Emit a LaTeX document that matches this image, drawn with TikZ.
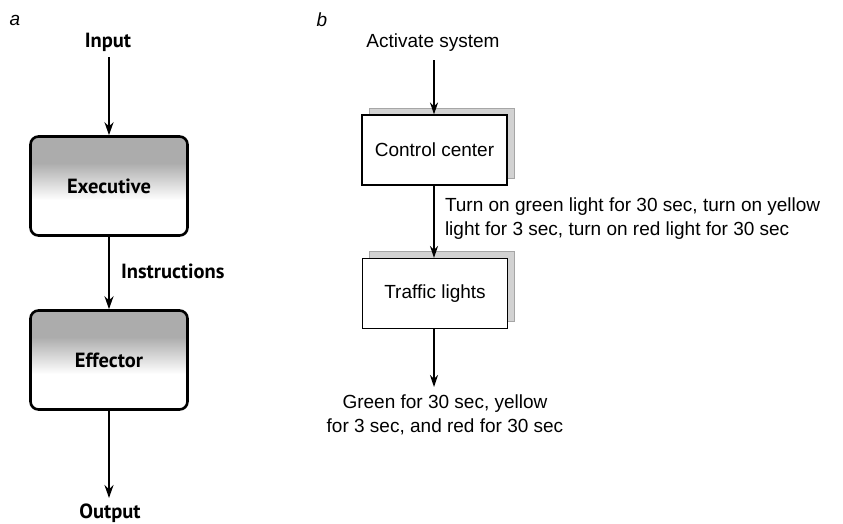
\documentclass[tikz,border=0pt]{standalone}
\usepackage{fontspec}
\setmainfont{Liberation Sans}
\newfontfamily\labfont{PT Sans}
\usetikzlibrary{arrows.meta,shadows}
\tikzset{
  boldlab/.style={font=\labfont\bfseries\fontsize{20.5}{22}\selectfont, inner sep=0pt, outer sep=0pt},
  plainlab/.style={font=\fontsize{19}{24}\selectfont, inner sep=0pt, outer sep=0pt},
  panel/.style={font=\itshape\fontsize{19}{20}\selectfont, inner sep=0pt},
  abox/.style={draw, line width=2.6pt, rounded corners=8pt, fill=white,
    minimum width=157pt, minimum height=99pt, inner sep=0pt,
    font=\labfont\bfseries\fontsize{20.5}{22}\selectfont,
    path picture={
      \fill[gray!65, sharp corners] ([yshift=4pt]path picture bounding box.north west) rectangle ([yshift=22pt, xshift=4pt]path picture bounding box.east);
      \shade[top color=gray!65, bottom color=white, sharp corners]
        ([yshift=23pt, xshift=-4pt]path picture bounding box.west) rectangle ([yshift=-14pt, xshift=4pt]path picture bounding box.east);}},
  bbox/.style={draw, line width=1.1pt, fill=white, minimum width=145pt, minimum height=70pt, inner sep=0pt,
    font=\fontsize{19}{24}\selectfont,
    copy shadow={shadow xshift=7pt, shadow yshift=7pt, fill=gray!35, draw=gray!70, line width=0.8pt}},
  athick/.style={line width=2.4pt, -{Stealth[length=13pt,width=9pt]}},
  athin/.style={line width=1.4pt, -{Stealth[length=12pt,width=8pt]}},
}
\begin{document}
\begin{tikzpicture}[x=1pt,y=-1pt]
\useasboundingbox (0,0) rectangle (843,523);
% panel a
\node[panel] (pa) at (15,20) {a};
\node[boldlab] (in) at (108,42) {Input};
\node[abox] (exec) at (109,186) {\raisebox{-4pt}{Executive}};
\node[abox] (eff) at (109,360) {Effector};
\node[boldlab] (out) at (110,513) {Output};
\node[boldlab, anchor=west] (instr) at (121,271) {Instructions};
\coordinate (inend) at (109,57);
\draw[athick] (inend) -- (exec.north);
\draw[athick] (exec.south) -- (eff.north);
\coordinate (outend) at (109,498);
\draw[athick] (eff.south) -- (outend);
% panel b
\node[panel] (pb) at (322,20) {b};
\node[plainlab] (act) at (433,43) {Activate system};
\node[bbox] (cc) at (434.5,150) {Control center};
\node[bbox] (tl) at (435,293.5) {Traffic lights};
\node[plainlab, anchor=west, align=left] (turn) at (445,219) {Turn on green light for 30 sec, turn on yellow\\light for 3 sec, turn on red light for 30 sec};
\node[plainlab, align=center] (green) at (445,415) {Green for 30 sec, yellow\\for 3 sec, and red for 30 sec};
\coordinate (actend) at (434,60);
\draw[athin] (actend) -- (cc.north -| actend);
\draw[athin] (cc.south -| actend) -- (tl.north -| actend);
\coordinate (gend) at (434,387);
\draw[athin] (tl.south -| gend) -- (gend);
\end{tikzpicture}
\end{document}
